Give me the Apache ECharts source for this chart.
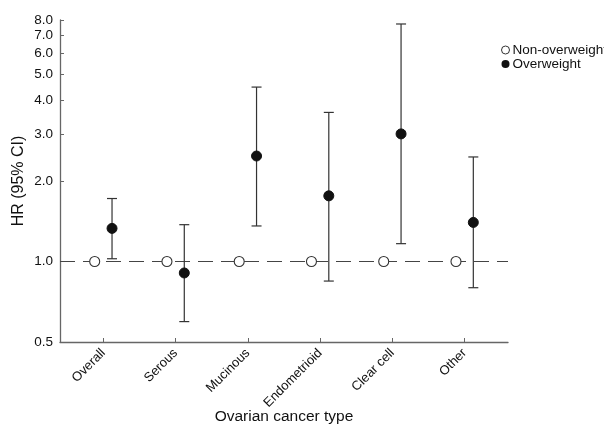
<!DOCTYPE html>
<html><head><meta charset="utf-8">
<script src="https://cdn.jsdelivr.net/npm/echarts@6/dist/echarts.min.js"></script>
<style>html,body{margin:0;padding:0;background:#fff}#c{width:604px;height:426px}</style>
</head><body><div id="c"></div>
<script>
const categories = ['Overall','Serous','Mucinous','Endometrioid','Clear cell','Other'];
const hrOver = [1.33, 0.906, 2.48, 1.76, 3.0, 1.40];
const ciLow = [1.024, 0.596, 1.358, 0.845, 1.166, 0.798];
const ciHigh = [1.72, 1.373, 4.49, 3.61, 7.73, 2.46];
const hrRef = [1, 1, 1, 1, 1, 1];
const yTicks = [0.5, 1, 2, 3, 4, 5, 6, 7, 8];
const off = 0.12;
const FONT = 'Liberation Sans, Arial, Helvetica, sans-serif';

const chart = echarts.init(document.getElementById('c'));
chart.setOption({
  animation: false,
  grid: {left: 60, right: 96, top: 20, bottom: 84, outerBoundsMode: 'none', containLabel: false},
  legend: {
    orient: 'vertical', left: 496, top: 38, itemGap: 0, itemWidth: 8, itemHeight: 8,
    textStyle: {fontFamily: FONT, fontSize: 13.5, color: '#111', padding: [0,0,0,-2]},
    data: [
      {name: 'Non-overweight', icon: 'circle', itemStyle: {color: '#fff', borderColor: '#333', borderWidth: 1}},
      {name: 'Overweight', icon: 'circle', itemStyle: {color: '#111', borderColor: '#111'}}
    ]
  },
  xAxis: {
    type: 'value', min: -0.6, max: 5.6,
    splitLine: {show: false},
    axisLine: {show: true, onZero: false, lineStyle: {color: '#666', width: 1.3}},
    axisTick: {show: true, inside: true, length: 4, lineStyle: {color: '#666'}, customValues: [0,1,2,3,4,5]},
    axisLabel: {customValues: [0,1,2,3,4,5], rotate: 45, fontFamily: FONT, fontSize: 13, color: '#111', margin: 9,
      formatter: v => categories[Math.round(v)]},
    name: 'Ovarian cancer type', nameLocation: 'middle', nameGap: 67, nameMoveOverlap: false,
    nameTextStyle: {fontFamily: FONT, fontSize: 15.5, color: '#111'}
  },
  yAxis: {
    type: 'log', logBase: 10, min: 0.5, max: 8,
    splitLine: {show: false},
    axisLine: {show: true, onZero: false, lineStyle: {color: '#666', width: 1.3}},
    axisTick: {show: true, inside: true, length: 4, lineStyle: {color: '#666'}, customValues: yTicks},
    axisLabel: {customValues: yTicks, fontFamily: FONT, fontSize: 13.5, color: '#111', margin: 7,
      formatter: v => Number(v).toFixed(1)},
    name: 'HR (95% CI)', nameLocation: 'middle', nameGap: 33, nameMoveOverlap: false,
    nameTextStyle: {fontFamily: FONT, fontSize: 16, color: '#111'}
  },
  series: [
    {
      type: 'line', name: 'ref', data: [[-0.6, 1], [5.6, 1]], symbol: 'none', z: 1,
      lineStyle: {color: '#444', width: 1.2, type: [15, 8]}, silent: true
    },
    {
      type: 'custom', name: 'ci', z: 2,
      renderItem: (params, api) => {
        const x = api.value(0);
        const lo = api.coord([x, api.value(1)]);
        const hi = api.coord([x, api.value(2)]);
        const w = 5;
        const st = {stroke: '#333', lineWidth: 1.2};
        return {type: 'group', children: [
          {type: 'line', shape: {x1: lo[0], y1: lo[1], x2: hi[0], y2: hi[1]}, style: st},
          {type: 'line', shape: {x1: lo[0]-w, y1: lo[1], x2: lo[0]+w, y2: lo[1]}, style: st},
          {type: 'line', shape: {x1: hi[0]-w, y1: hi[1], x2: hi[0]+w, y2: hi[1]}, style: st}
        ]};
      },
      data: categories.map((c, i) => [i + off, ciLow[i], ciHigh[i]])
    },
    {
      type: 'scatter', name: 'Non-overweight', z: 3, symbol: 'circle', symbolSize: 10,
      itemStyle: {color: '#fff', borderColor: '#333', borderWidth: 1.1, opacity: 1},
      data: categories.map((c, i) => [i - off, hrRef[i]])
    },
    {
      type: 'scatter', name: 'Overweight', z: 3, symbol: 'circle', symbolSize: 10,
      itemStyle: {color: '#111', borderColor: '#111', opacity: 1},
      data: categories.map((c, i) => [i + off, hrOver[i]])
    }
  ]
});
</script></body></html>
